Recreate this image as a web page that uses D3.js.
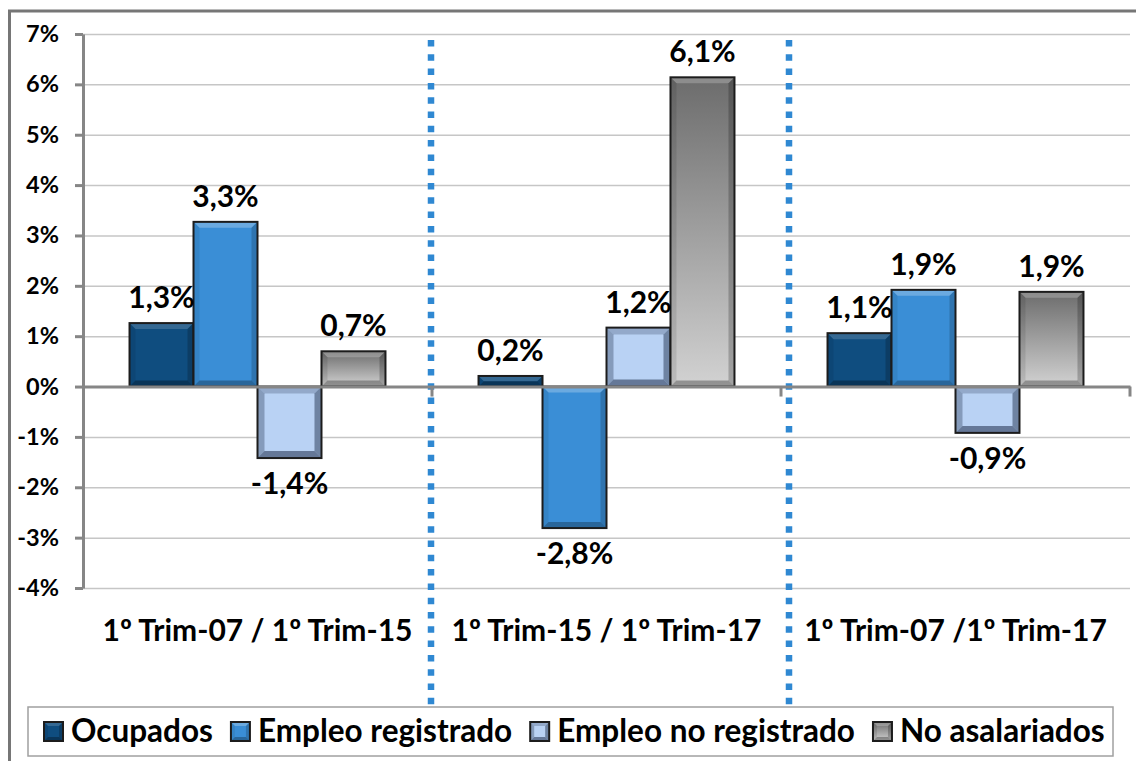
<!DOCTYPE html>
<html><head><meta charset="utf-8">
<script src="https://cdn.jsdelivr.net/npm/d3@7"></script>
<style>
html,body{margin:0;padding:0;background:#fff;}
svg{display:block;font-family:Lato,"Open Sans",sans-serif;font-weight:700;}
</style></head>
<body><svg id="c" width="1136" height="761"></svg>
<script>
const categories = ["1º Trim-07 / 1º Trim-15", "1º Trim-15 / 1º Trim-17", "1º Trim-07 /1º Trim-17"];
const seriesNames = ["Ocupados", "Empleo registrado", "Empleo no registrado", "No asalariados"];
const ocupados = [1.26, 0.21, 1.06];
const empleoRegistrado = [3.27, -2.81, 1.92];
const empleoNoRegistrado = [-1.42, 1.17, -0.92];
const noAsalariados = [0.70, 6.14, 1.88];
const yTicks = [-4, -3, -2, -1, 0, 1, 2, 3, 4, 5, 6, 7];

const seriesValues = [ocupados, empleoRegistrado, empleoNoRegistrado, noAsalariados];

const styles = [
  {fill:"#0f4d7f", top:"rgba(255,255,255,0.16)", left:"rgba(0,0,0,0.08)", right:"rgba(0,0,0,0.2)", bottom:"rgba(0,0,0,0.3)", b:6},
  {fill:"#3a8ed6", top:"rgba(255,255,255,0.25)", left:"rgba(0,0,0,0.07)", right:"rgba(0,0,0,0.18)", bottom:"rgba(0,0,0,0.28)", b:6},
  {fill:"#b9d2f4", top:"rgba(50,65,95,0.28)", left:"rgba(50,65,95,0.38)", right:"rgba(50,65,95,0.55)", bottom:"rgba(50,65,95,0.62)", b:7},
  {fill:"url(#grayGrad)", top:"rgba(255,255,255,0.22)", left:"rgba(0,0,0,0.1)", right:"rgba(0,0,0,0.22)", bottom:"rgba(0,0,0,0.3)", b:6}
];

const svg = d3.select("#c");
const defs = svg.append("defs");
const gg = defs.append("linearGradient").attr("id","grayGrad").attr("x1",0).attr("y1",0).attr("x2",0).attr("y2",1);
gg.append("stop").attr("offset","0%").attr("stop-color","#6c6c6c");
gg.append("stop").attr("offset","100%").attr("stop-color","#d2d2d2");

// outer frame
svg.append("rect").attr("x",9.5).attr("y",11).attr("width",1150).attr("height",780)
  .attr("fill","none").attr("stroke","#767676").attr("stroke-width",3);

const plotL = 83, plotR = 1130;
const y = d3.scaleLinear().domain([-4, 7]).range([588, 34]);
const x0 = d3.scaleBand().domain(categories).range([plotL, plotR]).paddingInner(0).paddingOuter(0);
const x1 = d3.scaleBand().domain(seriesNames).range([0, x0.bandwidth()]).paddingInner(0).paddingOuter(0.727);

// gridlines
svg.append("g").attr("transform",`translate(${plotL},0)`)
  .call(d3.axisLeft(y).tickValues(yTicks.filter(d=>d!==0)).tickSize(-(plotR-plotL)).tickFormat(""))
  .call(g=>g.select(".domain").remove())
  .call(g=>g.selectAll("line").attr("stroke","#c6c6c6").attr("stroke-width",1.5));

// dotted separators
const seps = categories.slice(1).map(c => x0(c));
const sepOffsets = [-1, 8];
svg.append("g").selectAll("line").data(seps).join("line")
  .attr("x1",(d,i)=>d+sepOffsets[i]).attr("x2",(d,i)=>d+sepOffsets[i])
  .attr("y1",40).attr("y2",706)
  .attr("stroke","#2f88d2").attr("stroke-width",6.5).attr("stroke-dasharray","6.5,7.8");

// bars
const bars = [];
categories.forEach((c,ci)=>{
  seriesNames.forEach((s,si)=>{
    bars.push({c, s, si, v: seriesValues[si][ci]});
  });
});

function bevelBar(g, x, yTop, w, h, st){
  g.append("rect").attr("x",x).attr("y",yTop).attr("width",w).attr("height",h).attr("fill",st.fill);
  const b = Math.min(st.b, h/2, w/2);
  const x2 = x+w, y2 = yTop+h;
  const poly = (pts, col)=>g.append("polygon").attr("points",pts.map(p=>p.join(",")).join(" ")).attr("fill",col);
  poly([[x,yTop],[x2,yTop],[x2-b,yTop+b],[x+b,yTop+b]], st.top);
  poly([[x,yTop],[x+b,yTop+b],[x+b,y2-b],[x,y2]], st.left);
  poly([[x2,yTop],[x2,y2],[x2-b,y2-b],[x2-b,yTop+b]], st.right);
  poly([[x,y2],[x+b,y2-b],[x2-b,y2-b],[x2,y2]], st.bottom);
  g.append("rect").attr("x",x).attr("y",yTop).attr("width",w).attr("height",h)
    .attr("fill","none").attr("stroke","#1c1c1c").attr("stroke-width",2);
}

const barG = svg.append("g");
bars.forEach(d=>{
  const x = x0(d.c) + x1(d.s);
  const yTop = y(Math.max(0,d.v));
  const h = Math.abs(y(d.v)-y(0));
  bevelBar(barG.append("g"), x, yTop, x1.bandwidth(), h, styles[d.si]);
});

// y axis
svg.append("g").attr("transform",`translate(${plotL},0)`)
  .call(d3.axisLeft(y).tickValues(yTicks).tickSize(8).tickSizeOuter(0).tickPadding(16).tickFormat(d=>d+"%"))
  .call(g=>g.select(".domain").attr("stroke","#868686").attr("stroke-width",3))
  .call(g=>g.selectAll(".tick line").attr("stroke","#868686").attr("stroke-width",3))
  .call(g=>g.selectAll("text").attr("fill","#000").attr("font-size",23.5).attr("font-family","Lato").attr("font-weight",700));

// zero line with category ticks
svg.append("g").attr("transform",`translate(0,${y(0)})`)
  .call(d3.axisBottom(x0).tickValues([]).tickSizeOuter(0))
  .call(g=>g.select(".domain").attr("stroke","#868686").attr("stroke-width",3));
svg.append("g").selectAll("line").data(categories).join("line")
  .attr("x1",c=>x0(c)+x0.bandwidth()).attr("x2",c=>x0(c)+x0.bandwidth())
  .attr("y1",y(0)).attr("y2",y(0)+10).attr("stroke","#868686").attr("stroke-width",3);

// value labels
const fmt = v => d3.format(".1f")(v).replace(".",",").replace("−","-") + "%";
svg.append("g").selectAll("text").data(bars).join("text")
  .attr("x",d=>x0(d.c)+x1(d.s)+x1.bandwidth()/2)
  .attr("y",d=> d.v>=0 ? y(d.v)-15 : y(d.v)+36)
  .attr("text-anchor","middle").attr("font-size",30).attr("fill","#000")
  .text(d=>fmt(d.v));

// category labels
svg.append("g").selectAll("text").data(categories).join("text")
  .attr("x",c=>x0(c)+x0.bandwidth()/2).attr("y",641)
  .attr("text-anchor","middle").attr("font-size",30).attr("fill","#000")
  .text(c=>c);

// legend
const leg = svg.append("g");
leg.append("rect").attr("x",28).attr("y",707).attr("width",1085).attr("height",49)
  .attr("fill","#fff").attr("stroke","#a0a0a0").attr("stroke-width",1.5);
let lx = 44;
const legFont = 31.5;
seriesNames.forEach((s,si)=>{
  const st = Object.assign({}, styles[si], {b:4});
  bevelBar(leg.append("g"), lx, 722, 19, 19, st);
  const t = leg.append("text").attr("x",lx+27).attr("y",742).attr("font-size",legFont).attr("fill","#000").text(s);
  lx += 27 + t.node().getComputedTextLength() + 18;
});
</script></body></html>
